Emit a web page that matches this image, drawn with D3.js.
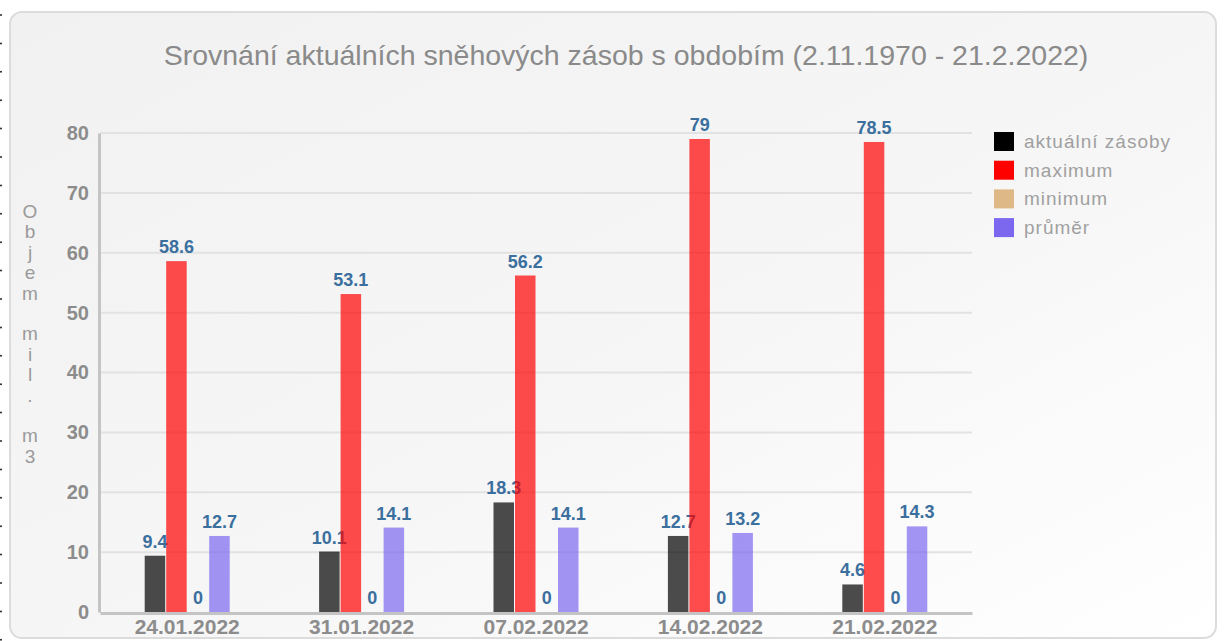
<!DOCTYPE html>
<html>
<head>
<meta charset="utf-8">
<script src="https://cdn.jsdelivr.net/npm/d3@7"></script>
<style>
  body { margin: 0; background: #fff; }
  svg { display: block; font-family: "Liberation Sans", Arial, sans-serif; }
</style>
</head>
<body>
<svg id="chart" width="1224" height="641"></svg>
<script>
// data
var dates = ["24.01.2022", "31.01.2022", "07.02.2022", "14.02.2022", "21.02.2022"]
var seriesNames = ["aktuální zásoby", "maximum", "minimum", "průměr"]
var seriesColors = ["#000000", "#ff0000", "#deb887", "#7b68ee"]
var aktualni = [9.4, 10.1, 18.3, 12.7, 4.6]
var maximum = [58.6, 53.1, 56.2, 79, 78.5]
var minimum = [0, 0, 0, 0, 0]
var prumer = [12.7, 14.1, 14.1, 13.2, 14.3]
var yTicks = [0, 10, 20, 30, 40, 50, 60, 70, 80]

var titleText = "Srovnání aktuálních sněhových zásob s obdobím (2.11.1970 - 21.2.2022)"
var yLabel = "Objem mil. m3"

var values = [aktualni, maximum, minimum, prumer]

var svg = d3.select("#chart")
var W = 1224, H = 641
var margin = {left: 100, right: 252, top: 133, bottom: 29}

// panel background
var defs = svg.append("defs")
var grad = defs.append("linearGradient").attr("id", "bg")
    .attr("x1", "0").attr("y1", "0").attr("x2", "1").attr("y2", "1")
grad.append("stop").attr("offset", "0").attr("stop-color", "#f1f1f1")
grad.append("stop").attr("offset", "0.55").attr("stop-color", "#f6f6f6")
grad.append("stop").attr("offset", "1").attr("stop-color", "#ffffff")

svg.append("rect")
    .attr("x", 10).attr("y", 12)
    .attr("width", 1206).attr("height", 626)
    .attr("rx", 12).attr("ry", 12)
    .attr("fill", "url(#bg)")
    .attr("stroke", "#dcdcdc").attr("stroke-width", 2)

// the dotted edge on the far left
svg.append("g").selectAll("circle")
    .data(d3.range(15, H, 28.4))
    .enter().append("circle")
    .attr("cx", 1).attr("cy", d => d).attr("r", 1)
    .attr("fill", "#222")

svg.append("text")
    .attr("x", 626).attr("y", 65)
    .attr("text-anchor", "middle")
    .attr("font-size", 28.5)
    .attr("fill", "#8a8a8a")
    .text(titleText)

var x0 = d3.scaleBand().domain(dates)
    .range([margin.left, W - margin.right])
var x1 = d3.scaleBand().domain(d3.range(seriesNames.length))
    .range([0, 86])
var y = d3.scaleLinear().domain([0, 80])
    .range([H - margin.bottom, margin.top])

// grid
svg.append("g").selectAll("line")
    .data(yTicks.slice(1))
    .enter().append("line")
    .attr("x1", margin.left).attr("x2", W - margin.right)
    .attr("y1", d => y(d)).attr("y2", d => y(d))
    .attr("stroke", "#e2e2e2").attr("stroke-width", 2)

// y axis
var yAxis = svg.append("g")
    .attr("transform", `translate(${margin.left - 1},0)`)
    .call(d3.axisLeft(y).tickValues(yTicks).tickSize(0).tickPadding(10))
yAxis.select(".domain").attr("stroke", "#c4c4c4").attr("stroke-width", 3)
yAxis.selectAll("text")
    .attr("font-size", 20).attr("font-weight", "bold")
    .attr("fill", "#8c8c8c")
    .attr("font-family", "'Liberation Sans', Arial, sans-serif")

// x axis
var xAxis = svg.append("g")
    .attr("transform", `translate(0,${H - margin.bottom + 1})`)
    .call(d3.axisBottom(x0).tickSize(0).tickPadding(6))
xAxis.select(".domain").attr("stroke", "#c4c4c4").attr("stroke-width", 3)
xAxis.selectAll("text")
    .attr("font-size", 21).attr("font-weight", "bold")
    .attr("fill", "#8c8c8c")
    .attr("font-family", "'Liberation Sans', Arial, sans-serif")

// y label, one letter per line
svg.append("g").selectAll("text")
    .data(yLabel.split(""))
    .enter().append("text")
    .attr("x", 30).attr("y", (d, i) => 218 + i * 20.4)
    .attr("text-anchor", "middle")
    .attr("font-size", 19)
    .attr("fill", "#9a9a9a")
    .text(d => d)

// bars + value labels, series by series
seriesNames.forEach((name, s) => {
    var g = svg.append("g")
    g.selectAll("rect")
        .data(values[s])
        .enter().append("rect")
        .attr("x", (d, i) => x0(dates[i]) + (x0.bandwidth() - 86) / 2 + x1(s) + 0.5)
        .attr("width", x1.bandwidth() - 1)
        .attr("y", d => y(d))
        .attr("height", d => y(0) - y(d))
        .attr("fill", seriesColors[s])
        .attr("fill-opacity", 0.7)
    g.selectAll("text")
        .data(values[s])
        .enter().append("text")
        .attr("x", (d, i) => x0(dates[i]) + (x0.bandwidth() - 86) / 2 + x1(s) + x1.bandwidth() / 2)
        .attr("y", d => y(d) - 8)
        .attr("text-anchor", "middle")
        .attr("font-size", 18).attr("font-weight", "bold")
        .attr("fill", "#3a6f9e")
        .text(d => d)
})

// legend
var legend = svg.append("g").selectAll("g")
    .data(seriesNames)
    .enter().append("g")
    .attr("transform", (d, i) => `translate(994,${132 + i * 28.7})`)
legend.append("rect")
    .attr("width", 20).attr("height", 19)
    .attr("fill", (d, i) => seriesColors[i])
legend.append("text")
    .attr("x", 30).attr("y", 16)
    .attr("font-size", 19)
    .attr("letter-spacing", 1)
    .attr("fill", "#a0a0a0")
    .text(d => d)
</script>
</body>
</html>
